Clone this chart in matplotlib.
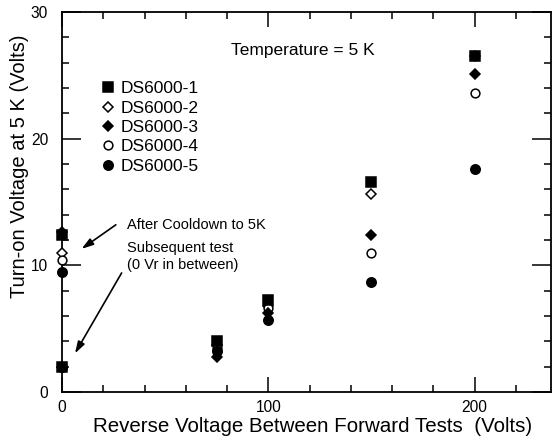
import matplotlib
matplotlib.use("Agg")
import matplotlib.pyplot as plt
from matplotlib.ticker import MultipleLocator

plt.rcParams["font.family"] = ["Liberation Sans", "DejaVu Sans"]

# ---------------------------------------------------------------------------
# Data. Two points at 0 V: after cooldown, subsequent test
# ---------------------------------------------------------------------------
reverse_v = [0, 0, 75, 100, 150, 200]

ds1 = [12.4, 2.0, 4.0, 7.3, 16.6, 26.5]
ds2 = [11.0, 2.0, 3.7, 6.8, 15.6, 26.5]
ds3 = [12.6, 2.0, 2.8, 6.2, 12.4, 25.1]
ds4 = [10.4, 2.0, 3.5, 6.6, 11.0, 23.6]
ds5 = [9.5, 2.0, 3.2, 5.7, 8.7, 17.6]

labels = ["DS6000-1", "DS6000-2", "DS6000-3", "DS6000-4", "DS6000-5"]

# ---------------------------------------------------------------------------
# Plot
# ---------------------------------------------------------------------------
fig = plt.figure(figsize=(5.53, 4.43), dpi=100)
ax = fig.add_axes([62 / 553, 51 / 443, 489 / 553, 380 / 443])

series = [
    (ds1, "s", "black", 6.5, 4),
    (ds2, "D", "white", 5.5, 3),
    (ds3, "D", "black", 5.5, 4),
    (ds4, "o", "white", 6.3, 3),
    (ds5, "o", "black", 6.8, 4),
]
for (vals, marker, face, ms, z), label in zip(series, labels):
    ax.plot(reverse_v, vals, linestyle="none", marker=marker, ms=ms,
            mfc=face, mec="black", mew=1.1, label=label, zorder=z,
            clip_on=False)

ax.set_xlim(0, 237)
ax.set_ylim(0, 30)
ax.xaxis.set_major_locator(MultipleLocator(100))
ax.xaxis.set_minor_locator(MultipleLocator(20))
ax.yaxis.set_major_locator(MultipleLocator(10))
ax.yaxis.set_minor_locator(MultipleLocator(2))

ax.tick_params(which="both", direction="in", top=True, right=True,
               width=1.1, color="black")
ax.tick_params(axis="x", which="major", length=10.5, pad=5.5, labelsize=11.2)
ax.tick_params(axis="y", which="major", length=13.5, pad=10, labelsize=11.2)
ax.tick_params(which="minor", length=5)
for sp in ax.spines.values():
    sp.set_linewidth(1.3)

ax.set_xlabel("Reverse Voltage Between Forward Tests  (Volts)", fontsize=14.8)
ax.xaxis.set_label_coords(0.513, -0.066)
ax.set_ylabel("Turn-on Voltage at 5 K (Volts)", fontsize=14.5)
ax.yaxis.set_label_coords(-0.068, 0.595)

ax.text(151.4, 27.0, "Temperature = 5 K", ha="right", va="center",
        fontsize=12.5)

ax.legend(loc="upper left", bbox_to_anchor=(0.08, 0.818), frameon=False,
          fontsize=12.5, handlelength=0.8, handletextpad=0.3,
          labelspacing=0.24, borderpad=0, borderaxespad=0, numpoints=1)

# annotations
ax.text(31.4, 13.2, "After Cooldown to 5K", fontsize=10.5, va="center")
ax.text(31.4, 11.4, "Subsequent test", fontsize=10.5, va="center")
ax.text(31.4, 10.0, "(0 Vr in between)", fontsize=10.5, va="center")

arrow = dict(arrowstyle="-|>,head_length=0.7,head_width=0.22", lw=1.2,
             color="black", shrinkA=0, shrinkB=0)
ax.annotate("", xy=(9.5, 11.3), xytext=(26.1, 13.2), arrowprops=arrow)
ax.annotate("", xy=(6.3, 3.05), xytext=(28.9, 9.4), arrowprops=arrow)

fig.savefig("out.png", dpi=100)
